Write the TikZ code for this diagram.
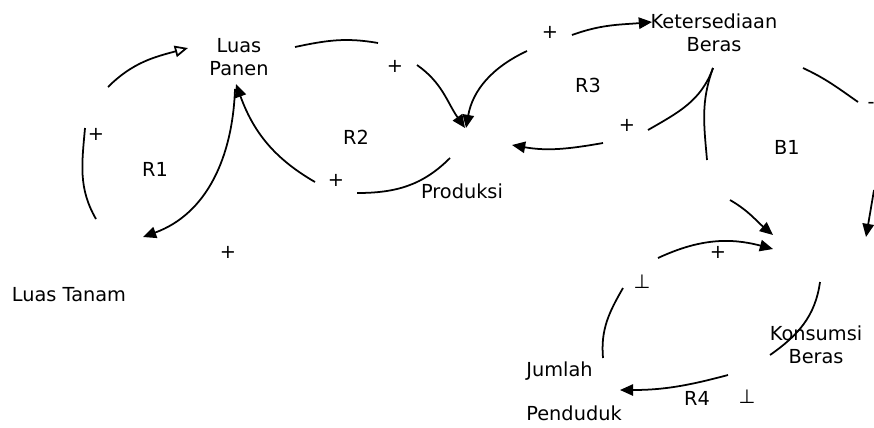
\documentclass[tikz,border=0pt]{standalone}
\usepackage{fontspec}
\setmainfont{DejaVu Sans}
\usetikzlibrary{arrows.meta}

\tikzset{
  link/.style={line width=1pt},
  arr/.style={link,-{Triangle[length=7.5pt,width=6.5pt]}},
  openarr/.style={link,-{Triangle[open,length=7.5pt,width=6.5pt]}},
  var/.style={font=\fontsize{11}{12.8}\selectfont,align=center,inner sep=0pt},
  sign/.style={font=\fontsize{11}{12.8}\selectfont,inner sep=0pt}
}

\begin{document}
\begin{tikzpicture}[x=0.02cm,y=-0.02cm]
      \useasboundingbox (0,0) rectangle (874,427);

      % variables
      \node[var] (panen) at (239,57) {Luas\\Panen};
      \node[var] (tanam) at (69,295) {Luas Tanam};
      \node[var] (produksi) at (462,191) {Produksi};
      \node[var] (sedia) at (714,33) {Ketersediaan\\Beras};
      \node[var] (konsumsi) at (816,345) {Konsumsi\\Beras};
      \node[var,align=left,anchor=north west] (penduduk) at (526,361) {Jumlah\\[0.43cm]Penduduk};

      % loop names
      \node[sign] (r1) at (155,169) {R1};
      \node[sign] (r2) at (356,137) {R2};
      \node[sign] (r3) at (588,85) {R3};
      \node[sign] (b1) at (787,147) {B1};
      \node[sign] (r4) at (697,398) {R4};

      % polarities
      \node[sign] (s1) at (96,134) {+};
      \node[sign] (s2) at (228,252) {+};
      \node[sign] (s3) at (395,66) {+};
      \node[sign] (s4) at (336,180) {+};
      \node[sign] (s5) at (550,32) {+};
      \node[sign] (s6) at (627,125) {+};
      \node[sign] (s7) at (718,252) {+};
      \node[sign] (s8) at (871,105) {-};
      \node[sign] (s9) at (642,282) {⊥};
      \node[sign] (s10) at (747,397) {⊥};

      % end points of the links
      \coordinate (a1) at (96,219);
      \coordinate (a2) at (85,128);
      \coordinate (b1s) at (108,87);
      \coordinate (b1e) at (188,48);
      \coordinate (c1) at (235,89);
      \coordinate (c2) at (143,237);
      \coordinate (d1) at (315,182);
      \coordinate (d2) at (236,84);
      \coordinate (e1) at (295,47);
      \coordinate (e2) at (378,43);
      \coordinate (f1) at (417,65);
      \coordinate (f2) at (465,128);
      \coordinate (g1) at (450,158);
      \coordinate (g2) at (357,193);
      \coordinate (h1) at (527,51);
      \coordinate (h2) at (466,128);
      \coordinate (i1) at (572,35);
      \coordinate (i2) at (652,22);
      \coordinate (j1) at (603,143);
      \coordinate (j2) at (512,145);
      \coordinate (k1) at (648,130);
      \coordinate (k2) at (713,68);
      \coordinate (l2) at (707,160);
      \coordinate (m1) at (730,200);
      \coordinate (m2) at (773,235);
      \coordinate (n1) at (658,258);
      \coordinate (n2) at (773,249);
      \coordinate (o1) at (803,68);
      \coordinate (o2) at (858,102);
      \coordinate (p1) at (874,190);
      \coordinate (p2) at (866,237);
      \coordinate (q1) at (623,288);
      \coordinate (q2) at (603,358);
      \coordinate (t1) at (820,282);
      \coordinate (t2) at (770,355);
      \coordinate (u1) at (728,375);
      \coordinate (u2) at (620,390);

      % links
      \draw[link] (a1) to[out=120,in=265] (a2);
      \draw[openarr] (b1s) to[out=45,in=195] (b1e);
      \draw[arr] (c1) to[out=268,in=20] (c2);
      \draw[arr] (d1) to[out=150,in=290] (d2);
      \draw[link] (e1) to[out=12,in=170] (e2);
      \draw[arr] (f1) to[out=-35,in=125] (f2);
      \draw[link] (g1) to[out=225,in=0] (g2);
      \draw[arr] (h1) to[out=205,in=80] (h2);
      \draw[arr] (i1) to[out=20,in=185] (i2);
      \draw[arr] (j1) to[out=190,in=-10] (j2);
      \draw[link] (k1) to[out=30,in=250] (k2);
      \draw[link] (k2) to[out=250,in=95] (l2);
      \draw[arr] (m1) to[out=-30,in=140] (m2);
      \draw[arr] (n1) to[out=25,in=165] (n2);
      \draw[link] (o1) to[out=-25,in=145] (o2);
      \draw[arr] (p1) to (p2);
      \draw[link] (q1) to[out=240,in=95] (q2);
      \draw[link] (t1) to[out=262,in=35] (t2);
      \draw[arr] (u1) to[out=195,in=0] (u2);
    \end{tikzpicture}
\end{document}
